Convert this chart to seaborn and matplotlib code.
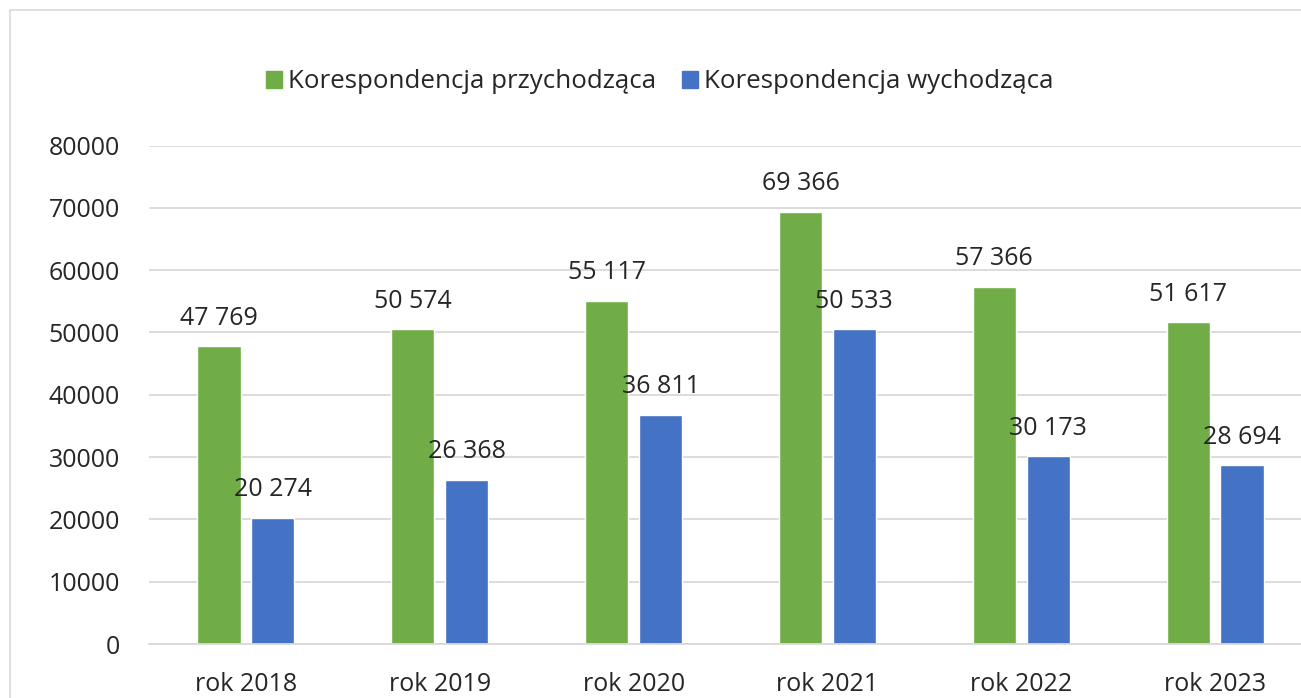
import matplotlib.pyplot as plt
import matplotlib.patches as mpatches
import pandas as pd
import seaborn as sns

years = ["rok 2018", "rok 2019", "rok 2020", "rok 2021", "rok 2022", "rok 2023"]
incoming = [47769, 50574, 55117, 69366, 57366, 51617]
outgoing = [20274, 26368, 36811, 50533, 30173, 28694]
series_names = ["Korespondencja przychodząca", "Korespondencja wychodząca"]
yticks = [0, 10000, 20000, 30000, 40000, 50000, 60000, 70000, 80000]

colour_dict = {series_names[0]: "#70AD47", series_names[1]: "#4472C4"}
text_col = "#262626"
grid_col = "#D9D9D9"

df = pd.DataFrame({
    "rok": years * 2,
    "seria": [series_names[0]] * len(years) + [series_names[1]] * len(years),
    "liczba": incoming + outgoing,
})

sns.set_style("white")
plt.rcParams["font.family"] = ["Open Sans", "DejaVu Sans"]

fig = plt.figure(figsize=(13.01, 6.98), dpi=100)
# plot area runs past the right edge, like the cropped original
ax = fig.add_axes([149 / 1301, 54 / 698, 1163 / 1301, 498.5 / 698])

sns.barplot(data=df, x="rok", y="liczba", hue="seria", palette=colour_dict,
            width=0.556, gap=0.2, saturation=1, legend=False, ax=ax)

for cont in ax.containers:
    ax.bar_label(cont, labels=[f"{v:,.0f}".replace(",", " ") for v in cont.datavalues],
                 padding=11, fontsize=18, color=text_col)

ax.set_ylim(0, 80000)
ax.set_xlim(-0.5, len(years) - 0.5)
ax.set_yticks(yticks)
ax.set_yticklabels([str(t) for t in yticks])
ax.yaxis.grid(True, color=grid_col, linewidth=1.3)
ax.set_axisbelow(True)
ax.tick_params(axis="y", length=0, pad=21, labelsize=18, labelcolor=text_col)
ax.tick_params(axis="x", length=0, pad=20, labelsize=18, labelcolor=text_col)
ax.set_xlabel("")
ax.set_ylabel("")
for s in ["top", "right", "left"]:
    ax.spines[s].set_visible(False)
ax.spines["bottom"].set_color(grid_col)
ax.spines["bottom"].set_linewidth(1.3)

handles = [mpatches.Patch(color=colour_dict[n]) for n in series_names]
fig.legend(handles, series_names, loc="center", bbox_to_anchor=(660 / 1301, 1 - 82 / 698),
           ncol=2, frameon=False, fontsize=18.6, labelcolor=text_col,
           handlelength=0.6, handleheight=0.6, handletextpad=0.25, columnspacing=1.0)

# light chart border, cut off at right and bottom
fig.add_artist(mpatches.Rectangle((10 / 1301, -0.1), 1.2, 1.1 - 10 / 698,
                                  transform=fig.transFigure, fill=False,
                                  edgecolor=grid_col, linewidth=1.2))

fig.savefig("out.png", dpi=100)
